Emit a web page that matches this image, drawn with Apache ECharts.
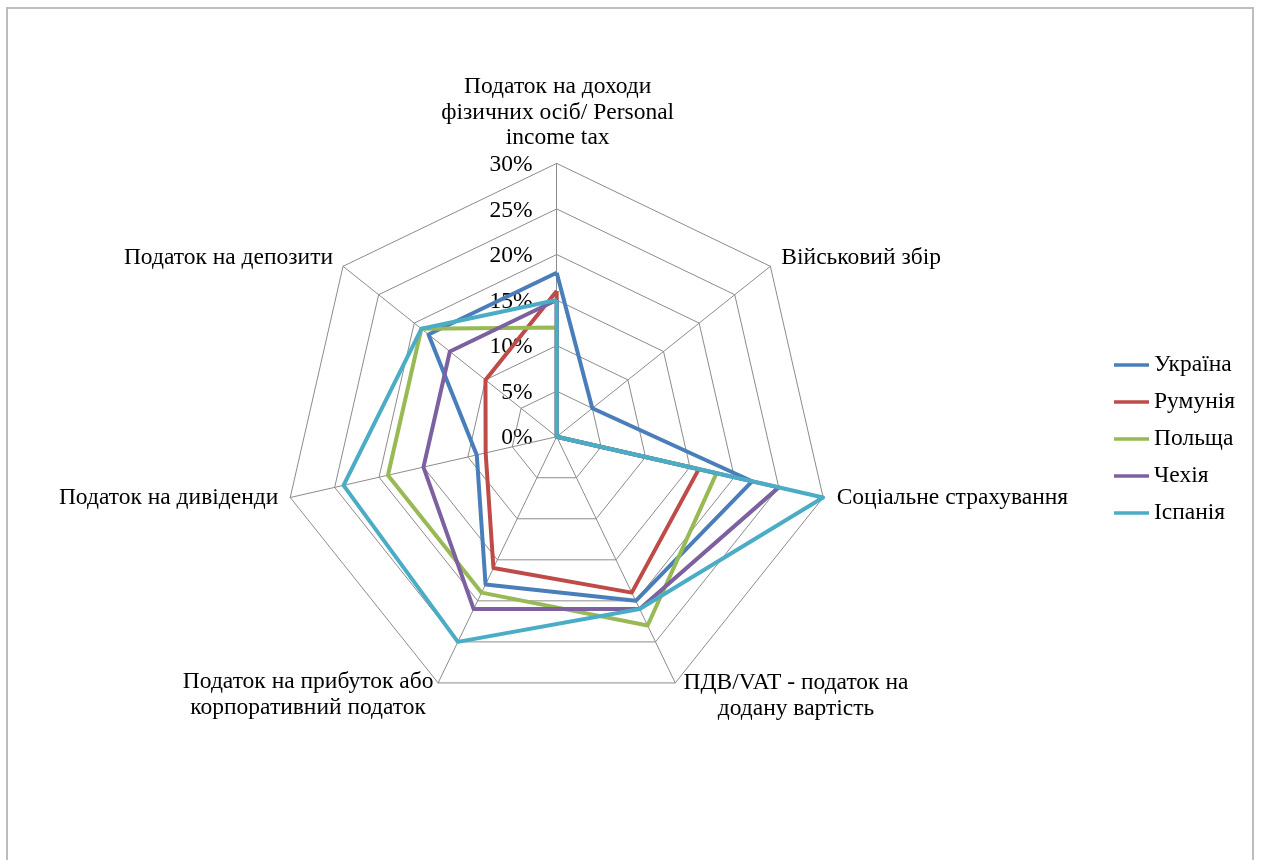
<!DOCTYPE html>
<html>
<head>
<meta charset="utf-8">
<script src="https://cdn.jsdelivr.net/npm/echarts@6/dist/echarts.min.js"></script>
<style>
  html, body { margin: 0; padding: 0; background: #ffffff; }
  #chart { width: 1262px; height: 860px; }
</style>
</head>
<body>
<div id="chart"></div>
<script>
// Tax categories, listed clockwise starting from the top axis
const categories = [
  'Податок на доходи\nфізичних осіб/ Personal\nincome tax',
  'Військовий збір',
  'Соціальне страхування',
  'ПДВ/VAT - податок на\nдодану вартість',
  'Податок на прибуток або\nкорпоративний податок',
  'Податок на дивіденди',
  'Податок на депозити'
];

const countries = ['Україна', 'Румунія', 'Польща', 'Чехія', 'Іспанія'];

// Tax rates, %, in the same order as categories
const ukraine = [18, 5, 22, 20, 18, 9, 18];
const romania = [16, 0, 16, 19, 16, 8, 10];
const poland  = [12, 0, 18, 23, 19, 19, 19];
const czechia = [15, 0, 25, 21, 21, 15, 15];
const spain   = [15, 0, 30, 21, 25, 24, 19];

const tickValues = [0, 5, 10, 15, 20, 25, 30];
const tickLabels = ['0%', '5%', '10%', '15%', '20%', '25%', '30%'];

const seriesValues = [ukraine, romania, poland, czechia, spain];
const colors = ['#4A7EBB', '#BE4B48', '#98B954', '#7D60A0', '#4BACC6'];

// Geometry of the radar
const CX = 556.7, CY = 436.7, R = 273.3;
const MAX = 30;
const FONT_FAMILY = '"Liberation Serif", "Times New Roman", serif';
const FONT_SIZE = 23.5;

// ECharts lays radar indicators out counter-clockwise; reorder for clockwise display
const n = categories.length;
const order = [0];
for (let i = n - 1; i >= 1; i--) order.push(i);

// Category label placement relative to the outer vertex of each axis
const labelPlacement = [
  { dx: 1,     dy: -51,  align: 'center' },
  { dx: 11,    dy: -8,   align: 'left' },
  { dx: 13.5,  dy: 0.5,  align: 'left' },
  { dx: 120.7, dy: 13,   align: 'center' },
  { dx: -130,  dy: 12,   align: 'center' },
  { dx: -12,   dy: 0.5,  align: 'right' },
  { dx: -10,   dy: -8,   align: 'right' }
];

const graphics = [];

// Outer frame
graphics.push({
  type: 'rect',
  shape: { x: 7, y: 8, width: 1246, height: 900 },
  style: { fill: 'none', stroke: '#bdbdbd', lineWidth: 2 },
  silent: true
});

categories.forEach(function (name, i) {
  const a = i * 2 * Math.PI / n;
  const vx = CX + R * Math.sin(a);
  const vy = CY - R * Math.cos(a);
  const p = labelPlacement[i];
  graphics.push({
    type: 'text',
    x: vx + p.dx,
    y: vy + p.dy,
    style: {
      text: name,
      fill: '#000000',
      fontFamily: FONT_FAMILY,
      fontSize: FONT_SIZE,
      lineHeight: 25.5,
      align: p.align,
      verticalAlign: 'middle'
    },
    silent: true
  });
});

// Percentage scale along the top axis
tickValues.forEach(function (v, k) {
  graphics.push({
    type: 'text',
    x: CX - 24,
    y: CY - R * v / MAX + 1.5,
    style: {
      text: tickLabels[k],
      fill: '#000000',
      fontFamily: FONT_FAMILY,
      fontSize: FONT_SIZE,
      align: 'right',
      verticalAlign: 'middle'
    },
    silent: true
  });
});

const chart = echarts.init(document.getElementById('chart'), null, { renderer: 'canvas' });

chart.setOption({
  animation: false,
  backgroundColor: '#ffffff',
  color: colors,
  legend: {
    orient: 'vertical',
    left: 1109,
    top: 348,
    itemWidth: 35,
    itemHeight: 3.5,
    itemGap: 13,
    icon: 'rect',
    data: countries,
    textStyle: {
      color: '#000000',
      fontFamily: FONT_FAMILY,
      fontSize: FONT_SIZE
    }
  },
  radar: {
    center: [CX, CY],
    radius: R,
    startAngle: 90,
    shape: 'polygon',
    splitNumber: 6,
    indicator: order.map(function (i) {
      return { name: categories[i], min: 0, max: MAX };
    }),
    axisName: { show: false },
    axisLabel: { show: false },
    axisTick: { show: false },
    axisLine: { lineStyle: { color: '#8c8c8c', width: 1 } },
    splitLine: { lineStyle: { color: '#8c8c8c', width: 1 } },
    splitArea: { show: false }
  },
  series: [{
    type: 'radar',
    symbol: 'none',
    data: countries.map(function (c, s) {
      return {
        name: c,
        value: order.map(function (i) { return seriesValues[s][i]; }),
        lineStyle: { color: colors[s], width: 4 },
        itemStyle: { color: colors[s] }
      };
    })
  }],
  graphic: graphics
});
</script>
</body>
</html>
